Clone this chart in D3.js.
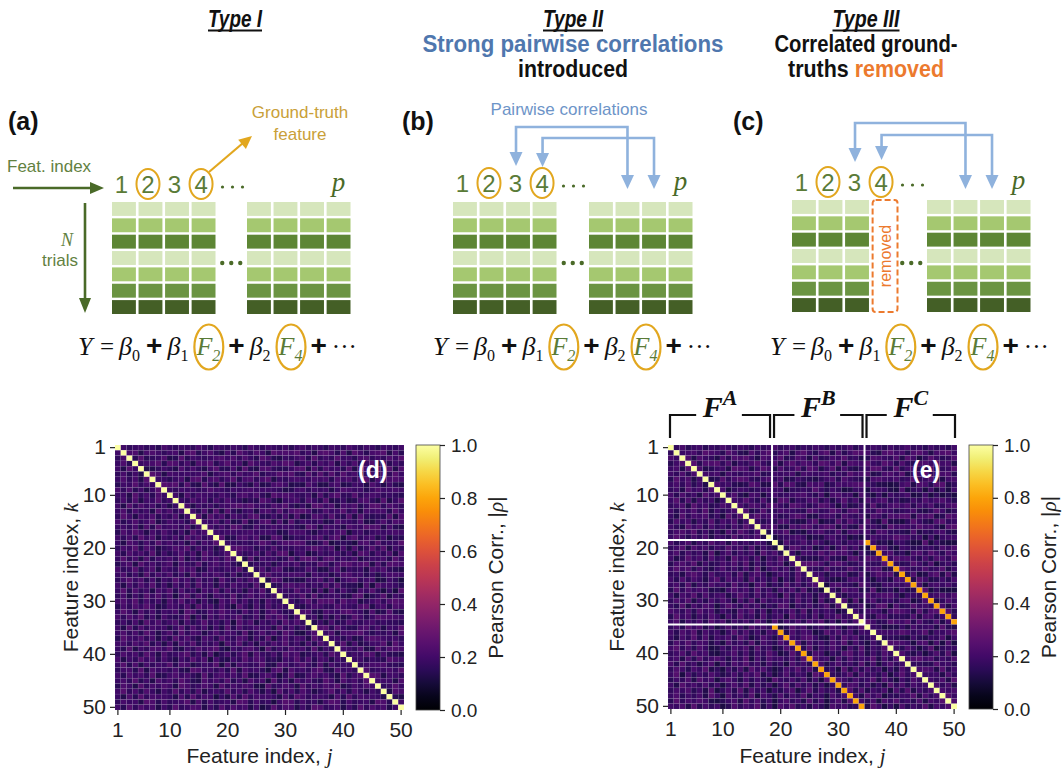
<!DOCTYPE html>
<html>
<head>
<meta charset="utf-8">
<script src="https://cdn.jsdelivr.net/npm/d3@7/dist/d3.min.js"></script>
<style>
  html, body { margin: 0; padding: 0; background: #fff; }
  svg { display: block; }
</style>
</head>
<body>
<svg id="fig" width="1063" height="776" viewBox="0 0 1063 776"></svg>
<script>
// ================= data =================
const typeNames = ["Type I", "Type II", "Type III"];
const typeNotes = [
  [],
  [[{ t: "Strong pairwise correlations", role: "corr" }], [{ t: "introduced" }]],
  [[{ t: "Correlated ground-" }], [{ t: "truths " }, { t: "removed", role: "removed" }]]
];
const panelTags = ["(a)", "(b)", "(c)"];
const featLabels = ["1", "2", "3", "4"];
const groundTruth = ["2", "4"];
const lastFeatLabel = "p";
const nTrialRows = 7;
const corrPairs = [[3, 2], [4, 3]];          // left-block column -> right-block column
const removedFeature = [null, null, "4"];    // feature dropped in each design type
const eqTokens = [
  { kind: "var", t: "Y" },
  { kind: "rel", t: "=" },
  { kind: "var", t: "β", sub: "0" },
  { kind: "plus", t: "+" },
  { kind: "var", t: "β", sub: "1" },
  { kind: "feat", t: "F", sub: "2" },
  { kind: "plus", t: "+" },
  { kind: "var", t: "β", sub: "2" },
  { kind: "feat", t: "F", sub: "4" },
  { kind: "plus", t: "+" },
  { kind: "dots", t: "···" }
];

const featureIdx = d3.range(1, 51);
const axisTicks = [1, 10, 20, 30, 40, 50];
const cbarTicks = [0, 0.2, 0.4, 0.6, 0.8, 1.0];
const groupsE = [
  { name: "A", from: 1, to: 18 },
  { name: "B", from: 19, to: 34 },
  { name: "C", from: 35, to: 50 }
];
const pairedOffset = 16;   // feature k (35..50) is a noisy copy of feature k-16
const pairedRho = 0.8;

// |rho| levels below the diagonal, one string per feature k = 2..50 (digit d -> 0.10 + 0.016 d)
const bgLevelsD = [
  "6", "47", "583", "6295", "47362", "584729", "3659475", "74836259", "562947385",
  "4738265946", "6294857362 5", "5837462958 47", "4962758364 826", "7358469247 5639",
  "5647283956 74826", "3859627485 362957", "6473958264 7395846", "5286374957 46283759",
  "4759386245 869374625", "6385749263 5847296358", "5947283657 4926385749 6",
  "3682957468 2754936857 42", "7459368275 4968237546 593", "5836294758 3629475863 7254",
  "4695837264 9573846295 37486", "6274859362 7483956274 856392", "5938462759 3846275938 4627593",
  "4726395847 1693852764 93585746", "6859374628 5947263185 947362854",
  "3748596237 6482957384 1952738465", "5962847365 7298347596 5384726953 4",
  "7485936274 3591627485 6934728596 27", "4637295846 8273594637 1958264739 584",
  "6293847562 5938472629 3845756294 7362", "5847396258 3947625847 6392584739 62158",
  "3965847263 9584276395 4872639158 476295", "6748593627 2859364718 5936274859 4627385",
  "5392648759 3264857931 6478519364 85739264", "4857396284 5793628147 3692854739 682457396",
  "7264958374 2649581732 6495873426 5948376264", "5938274659 3872465918 2764593287 4695382746 5",
  "4673928564 7329856473 9285641792 8564793285 64", "6385749236 8574293685 7492368514 9236857429 368",
  "5749362857 4963285749 3628571936 2857439628 5749", "3862947586 2974586294 7586219458 6294758692 47586",
  "6947385264 9473825649 4738526194 7385246947 385264", "5283947665 2839476152 8394766528 3974665283 9476652",
  "4756298374 5692837456 2983745169 8374526983 74562983", "6394857263 9458726394 8572613948 7263984572 639485726"
];
const bgLevelsE = [
  "4", "75", "368", "5729", "64837", "395826", "5748362", "46295738", "738462957",
  "5938274615", "4682957348 6", "6375849263 57", "5294768351 948", "3857264937 5826",
  "6429583746 37495", "4785936251 849637", "5963748265 3947582", "7358264957 28463751",
  "4692857364 957382641", "5837462915 8364729583", "6249573846 2957381649 5",
  "3785926347 5849263758 16", "5968374258 4637291584 729", "4527963845 7392685147 6395",
  "6384752693 8572946381 52946", "5739264857 3946178253 947368", "3948576231 6857394627 5839241",
  "6275938467 2596384751 93846275", "4859263748 5173928465 739461825",
  "5392748615 9638472539 8164735928", "7648395726 4285937164 5839274651 3",
  "3957264851 7394628357 1946382759 46", "5826473958 2647395182 6473859261 738",
  "4739582614 8362957481 3957246385 1649", "6385927461 5948362759 2847613958 47265",
  "5274938265 7396148527 3648952173 958346", "3859476251 8463927538 5192746385 9274163",
  "6947385126 3758294613 8573926485 17392648", "4683957214 5837264951 3948276153 894726385",
  "5728394685 2649173856 4739285617 3846592738", "7394625817 3859462735 1846397258 4639271584 6",
  "4863759241 6372958413 7594826351 9283746152 84", "5917364852 4738592614 8365197243 5928463715 947",
  "3648295716 8527364195 4738261958 6374592841 6385", "6295748361 5849273615 9384726159 4873625194 83756",
  "4758362914 7392846153 6815937462 5938264718 392647", "5836472951 8463917528 3749265184 7362958143 6592847",
  "3947586213 5729483615 8462937158 2946371859 46382759", "6582937461 3847592618 5936274185 7348296151 836492758"
];

// ================= drawing =================
const svg = d3.select("#fig");
const SANS = "'Liberation Sans', Arial, Helvetica, sans-serif";
const NARROW = "'Liberation Sans Narrow', 'Arial Narrow', 'Liberation Sans', Arial, sans-serif";
const SERIF = "'Liberation Serif', 'Times New Roman', serif";
const COL = {
  ink: "#111", num: "#5a7b37", dark: "#4a6a28", olive: "#62813f",
  gold: "#e2a71f", goldText: "#c9a038", blue: "#8fb2dd", blueText: "#6d94c8",
  corr: "#4f77ae", removed: "#ec7a2e"
};
const trialShade = ["#d6e6bc", "#a5c870", "#5d8634", "#d6e6bc", "#a5c870", "#6b9442", "#445f26"];

function head(g, x, y, ang, len, wid, color) {
  g.append("path")
    .attr("d", `M0,0 L${-len},${-wid / 2} L${-len},${wid / 2} Z`)
    .attr("transform", `translate(${x},${y}) rotate(${ang})`)
    .attr("fill", color);
}

// ---------- column headings ----------
const headCenters = [235, 573, 866];
const headWidths = {
  "Type I": 54, "Type II": 60, "Type III": 67,
  "Strong pairwise correlations": 301, "introduced": 110,
  "Correlated ground-": 183, "truths removed": 156
};
typeNames.forEach((name, i) => {
  const cx = headCenters[i];
  const w = headWidths[name];
  svg.append("text")
    .attr("x", cx).attr("y", 27).attr("text-anchor", "middle")
    .attr("font-family", NARROW).attr("font-weight", "bold").attr("font-style", "italic")
    .attr("font-size", 23).attr("fill", COL.ink)
    .attr("textLength", w).attr("lengthAdjust", "spacingAndGlyphs")
    .text(name);
  svg.append("line")
    .attr("x1", cx - w / 2).attr("x2", cx + w / 2).attr("y1", 30.5).attr("y2", 30.5)
    .attr("stroke", COL.ink).attr("stroke-width", 2);
  typeNotes[i].forEach((line, li) => {
    const t = svg.append("text")
      .attr("x", cx).attr("y", 52 + 25 * li).attr("text-anchor", "middle")
      .attr("font-family", NARROW).attr("font-weight", "bold").attr("font-size", 23);
    line.forEach(seg => t.append("tspan").text(seg.t).attr("fill", seg.role ? COL[seg.role] : COL.ink));
    const full = line.map(s => s.t).join("");
    t.attr("textLength", headWidths[full]).attr("lengthAdjust", "spacingAndGlyphs");
  });
});

// ---------- schematic panels (a)-(c) ----------
const panelCfg = [
  { tagX: 8,   leftX: 112, rightX: 247, gridTop: 202, numY: 193, eqX: 78 },
  { tagX: 402, leftX: 453, rightX: 589, gridTop: 202, numY: 192, eqX: 433, linkTops: [127, 138], leftTip: 166 },
  { tagX: 733, leftX: 792, rightX: 927, gridTop: 200, numY: 191, eqX: 770, linkTops: [123, 135], leftTip: 162 }
];

function drawEquation(g, x0, base) {
  let cx = x0;
  eqTokens.forEach((tok, i) => {
    if (i > 0) cx += 5;
    const isFeat = tok.kind === "feat";
    if (isFeat) cx += 2;
    const t = g.append("text").attr("x", cx).attr("y", base);
    if (tok.kind === "plus") {
      t.attr("font-family", SANS).attr("font-weight", "bold").attr("font-size", 28).attr("fill", COL.ink).text(tok.t);
    } else if (tok.kind === "dots") {
      t.attr("font-family", SERIF).attr("font-size", 25).attr("fill", COL.ink).text(tok.t);
    } else if (tok.kind === "rel") {
      t.attr("font-family", SERIF).attr("font-size", 25).attr("fill", COL.ink).text(tok.t);
    } else {
      const fill = isFeat ? COL.num : COL.ink;
      t.attr("font-family", SERIF).attr("font-style", "italic").attr("font-size", 26).attr("fill", fill);
      t.append("tspan").text(tok.t);
      if (tok.sub) t.append("tspan").attr("font-size", 16).attr("font-style", isFeat ? "italic" : "normal").attr("dy", 6).text(tok.sub);
    }
    const w = t.node().getBBox().width;
    if (isFeat) {
      g.append("ellipse")
        .attr("cx", cx + w / 2).attr("cy", base - 8).attr("rx", w / 2 + 2).attr("ry", 22.5)
        .attr("fill", "none").attr("stroke", COL.gold).attr("stroke-width", 2.2);
      cx += 2;
    }
    cx += w;
  });
}

panelCfg.forEach((p, pi) => {
  const g = svg.append("g");
  g.append("text").attr("x", p.tagX).attr("y", 130)
    .attr("font-family", SANS).attr("font-weight", "bold").attr("font-size", 25).attr("fill", COL.ink)
    .text(panelTags[pi]);

  const colL = d3.scaleBand().domain(featLabels).range([p.leftX, p.leftX + 103.5]).paddingInner(0.1);
  const colR = d3.scaleBand().domain(d3.range(4)).range([p.rightX, p.rightX + 103.5]).paddingInner(0.1);
  const rowY = d3.scaleBand().domain(d3.range(nTrialRows)).range([p.gridTop, p.gridTop + 112]).paddingInner(0.15);

  // trial x feature blocks
  featLabels.forEach(f => {
    if (removedFeature[pi] === f) return;
    d3.range(nTrialRows).forEach(r => {
      g.append("rect").attr("x", colL(f)).attr("y", rowY(r))
        .attr("width", colL.bandwidth()).attr("height", rowY.bandwidth()).attr("fill", trialShade[r]);
    });
  });
  d3.range(4).forEach(c => {
    d3.range(nTrialRows).forEach(r => {
      g.append("rect").attr("x", colR(c)).attr("y", rowY(r))
        .attr("width", colR.bandwidth()).attr("height", rowY.bandwidth()).attr("fill", trialShade[r]);
    });
  });

  // removed column
  if (removedFeature[pi]) {
    const f = removedFeature[pi];
    const rx0 = colL(f) + 1, rw = colL.bandwidth() + 1;
    g.append("rect").attr("x", rx0).attr("y", p.gridTop).attr("width", rw).attr("height", 112)
      .attr("rx", 3).attr("fill", "none").attr("stroke", COL.removed)
      .attr("stroke-width", 2).attr("stroke-dasharray", "6,3");
    g.append("text")
      .attr("transform", `translate(${rx0 + rw / 2 + 5.5},${p.gridTop + 56}) rotate(-90)`)
      .attr("text-anchor", "middle").attr("font-family", SANS).attr("font-size", 16)
      .attr("fill", COL.removed).text("removed");
  }

  // ellipsis between blocks
  const gapMid = (p.leftX + 103.5 + p.rightX) / 2;
  [-9, 0, 9].forEach(dx => g.append("circle").attr("cx", gapMid + dx).attr("cy", 263).attr("r", 2.2).attr("fill", COL.dark));

  // feature index labels
  featLabels.forEach(f => {
    g.append("text").attr("x", colL(f) + colL.bandwidth() / 2 - 2.5).attr("y", p.numY)
      .attr("text-anchor", "middle").attr("font-family", SANS).attr("font-size", 24)
      .attr("fill", COL.num).text(f);
    if (groundTruth.includes(f)) {
      g.append("ellipse").attr("cx", colL(f) + colL.bandwidth() / 2 - 2.5).attr("cy", p.numY - 9)
        .attr("rx", 11.5).attr("ry", 15).attr("fill", "none").attr("stroke", COL.gold).attr("stroke-width", 2);
    }
  });
  const dotX0 = colL(featLabels[3]) + colL.bandwidth() + 7;
  [0, 10, 20].forEach(dx => g.append("circle").attr("cx", dotX0 + dx).attr("cy", p.numY - 6).attr("r", 1.6).attr("fill", COL.dark));
  g.append("text").attr("x", colR(3) + colR.bandwidth() / 2).attr("y", p.numY - 2)
    .attr("text-anchor", "middle").attr("font-family", SERIF).attr("font-style", "italic")
    .attr("font-size", 27).attr("fill", COL.dark).text(lastFeatLabel);

  // pairwise-correlation links
  if (p.linkTops) {
    corrPairs.forEach((pair, k) => {
      const xl = colL(featLabels[pair[0] - 1]) + colL.bandwidth() / 2 - 2;
      const xr = colR(pair[1] - 1) + colR.bandwidth() / 2;
      const top = p.linkTops[k];
      const lt = p.leftTip + (k === 1 && pi === 1 ? 1 : 0) - (k === 1 && pi === 2 ? 2 : 0);
      g.append("path")
        .attr("d", `M${xl},${lt - 12} V${top} H${xr} V${189 - 12}`)
        .attr("fill", "none").attr("stroke", COL.blue).attr("stroke-width", 2.6);
      head(g, xl, lt, 90, 14, 13, COL.blue);
      head(g, xr, 189, 90, 14, 13, COL.blue);
    });
  }
  if (pi === 1) {
    g.append("text").attr("x", 569).attr("y", 115).attr("text-anchor", "middle")
      .attr("font-family", SANS).attr("font-size", 17).attr("fill", COL.blueText)
      .text("Pairwise correlations");
  }

  // legend items of panel (a)
  if (pi === 0) {
    g.append("text").attr("x", 7).attr("y", 172).attr("font-family", SANS).attr("font-size", 17)
      .attr("fill", COL.olive).text("Feat. index");
    g.append("line").attr("x1", 13).attr("x2", 92).attr("y1", 188).attr("y2", 188)
      .attr("stroke", COL.dark).attr("stroke-width", 2.6);
    head(g, 104, 188, 0, 14, 12, COL.dark);

    g.append("line").attr("x1", 85).attr("x2", 85).attr("y1", 203).attr("y2", 300)
      .attr("stroke", COL.dark).attr("stroke-width", 2.6);
    head(g, 85, 313, 90, 15, 12, COL.dark);
    g.append("text").attr("x", 67).attr("y", 246).attr("text-anchor", "middle")
      .attr("font-family", SERIF).attr("font-style", "italic").attr("font-size", 18)
      .attr("fill", COL.olive).text("N");
    g.append("text").attr("x", 60).attr("y", 266).attr("text-anchor", "middle")
      .attr("font-family", SANS).attr("font-size", 17).attr("fill", COL.olive).text("trials");

    g.append("line").attr("x1", 209).attr("y1", 172).attr("x2", 243).attr("y2", 143)
      .attr("stroke", COL.gold).attr("stroke-width", 2.2);
    head(g, 252, 136, -40, 13, 12, COL.gold);
    g.append("text").attr("x", 300).attr("y", 118).attr("text-anchor", "middle")
      .attr("font-family", SANS).attr("font-size", 17).attr("fill", COL.goldText).text("Ground-truth");
    g.append("text").attr("x", 300).attr("y", 140).attr("text-anchor", "middle")
      .attr("font-family", SANS).attr("font-size", 17).attr("fill", COL.goldText).text("feature");
  }

  drawEquation(g, p.eqX, 355);
});

// ---------- correlation heatmaps (d), (e) ----------
function levelMatrix(rows) {
  return rows.map(s => s.replace(/\s+/g, ""));
}
const levD = levelMatrix(bgLevelsD), levE = levelMatrix(bgLevelsE);
function bgRho(lev, k, j) {
  const hi = Math.max(k, j), lo = Math.min(k, j);
  const row = lev[hi - 2] || "";
  const ch = row.charAt(lo - 1);
  const d = ch === "" ? 5 : +ch;
  return 0.10 + 0.016 * d;
}
function rhoD(k, j) { return k === j ? 1 : bgRho(levD, k, j); }
function rhoE(k, j) {
  if (k === j) return 1;
  const hi = Math.max(k, j), lo = Math.min(k, j);
  if (hi >= groupsE[2].from && hi - lo === pairedOffset) return pairedRho;
  return bgRho(levE, k, j);
}

const inferno = d3.scaleSequential(d3.interpolateInferno).domain([0, 1]);
const defs = svg.append("defs");

function heatmap(cfg) {
  const g = svg.append("g");
  const x = d3.scaleBand().domain(featureIdx).range([cfg.x, cfg.x + cfg.w]);
  const y = d3.scaleBand().domain(featureIdx).range([cfg.y, cfg.y + cfg.h]);
  const cells = [];
  featureIdx.forEach(k => featureIdx.forEach(j => cells.push({ k, j, v: cfg.rho(k, j) })));
  g.append("g").selectAll("rect").data(cells).join("rect")
    .attr("x", d => x(d.j)).attr("y", d => y(d.k))
    .attr("width", x.bandwidth()).attr("height", y.bandwidth())
    .attr("fill", d => inferno(d.v))
    .attr("stroke", "rgba(255,255,255,0.09)").attr("stroke-width", 0.6);

  const ax = g.append("g").attr("transform", `translate(0,${cfg.y + cfg.h})`)
    .call(d3.axisBottom(x).tickValues(axisTicks).tickSize(5).tickPadding(7));
  const ay = g.append("g").attr("transform", `translate(${cfg.x},0)`)
    .call(d3.axisLeft(y).tickValues(axisTicks).tickSize(5).tickPadding(4));
  [ax, ay].forEach(a => {
    a.select(".domain").remove();
    a.selectAll("text").attr("font-family", SANS).attr("font-size", 21).attr("fill", "#222");
    a.selectAll("line").attr("stroke", "#222").attr("stroke-width", 1.2);
  });

  const xl = g.append("text").attr("x", cfg.x + cfg.w / 2).attr("y", 763).attr("text-anchor", "middle")
    .attr("font-family", SANS).attr("font-size", 21).attr("fill", "#222");
  xl.append("tspan").text("Feature index, ");
  xl.append("tspan").attr("font-family", SERIF).attr("font-style", "italic").text("j");

  const yl = g.append("text")
    .attr("transform", `translate(${cfg.yLabelX},${cfg.y + cfg.h / 2}) rotate(-90)`)
    .attr("text-anchor", "middle").attr("font-family", SANS).attr("font-size", 21).attr("fill", "#222");
  yl.append("tspan").text("Feature index, ");
  yl.append("tspan").attr("font-family", SERIF).attr("font-style", "italic").text("k");

  g.append("text").attr("x", cfg.tagX).attr("y", 478)
    .attr("font-family", SANS).attr("font-weight", "bold").attr("font-size", 23).attr("fill", "#fff")
    .text(cfg.tag);

  // colour bar
  const gid = "cb" + cfg.tag.replace(/\W/g, "");
  const grad = defs.append("linearGradient").attr("id", gid)
    .attr("x1", 0).attr("y1", 1).attr("x2", 0).attr("y2", 0);
  d3.range(0, 1.0001, 0.05).forEach(t => grad.append("stop").attr("offset", t).attr("stop-color", inferno(t)));
  g.append("rect").attr("x", cfg.cbX).attr("y", cfg.y).attr("width", 24).attr("height", cfg.h)
    .attr("fill", `url(#${gid})`).attr("stroke", "#444").attr("stroke-width", 0.8);
  const cy = d3.scaleLinear().domain([0, 1]).range([cfg.y + cfg.h, cfg.y]);
  const ac = g.append("g").attr("transform", `translate(${cfg.cbX + 24},0)`)
    .call(d3.axisRight(cy).tickValues(cbarTicks).tickFormat(d3.format(".1f")).tickSize(5).tickPadding(6));
  ac.select(".domain").remove();
  ac.selectAll("text").attr("font-family", SANS).attr("font-size", 19).attr("fill", "#222");
  ac.selectAll("line").attr("stroke", "#222").attr("stroke-width", 1.2);
  const cl = g.append("text")
    .attr("transform", `translate(${cfg.cbX + 24 + 63},${cfg.y + cfg.h / 2}) rotate(-90)`)
    .attr("text-anchor", "middle").attr("font-family", SANS).attr("font-size", 21).attr("fill", "#222");
  cl.append("tspan").text("Pearson Corr., |");
  cl.append("tspan").attr("font-family", SERIF).attr("font-style", "italic").text("ρ");
  cl.append("tspan").text("|");

  return { g, x, y };
}

heatmap({ x: 115, y: 445, w: 289, h: 265, rho: rhoD, cbX: 416, yLabelX: 78, tag: "(d)", tagX: 358 });
const he = heatmap({ x: 668, y: 445, w: 289, h: 264, rho: rhoE, cbX: 969, yLabelX: 624, tag: "(e)", tagX: 912 });

// block boundaries of F^A and F^A ∪ F^B
{
  const { g, x, y } = he;
  const x0 = 668, y0 = 445;
  [groupsE[0].to, groupsE[1].to].forEach(b => {
    const xe = x(b) + x.bandwidth(), ye = y(b) + y.bandwidth();
    g.append("path").attr("d", `M${x0},${ye} H${xe} V${y0}`)
      .attr("fill", "none").attr("stroke", "#fff").attr("stroke-width", 2);
  });
  // group brackets
  groupsE.forEach(gr => {
    const x1 = x(gr.from) + 2, x2 = x(gr.to) + x.bandwidth() - 2;
    const cx = (x1 + x2) / 2;
    const t = g.append("text").attr("x", cx).attr("y", 417).attr("text-anchor", "middle")
      .attr("font-family", SERIF).attr("font-weight", "bold").attr("font-style", "italic")
      .attr("font-size", 30).attr("fill", COL.ink);
    t.append("tspan").text("F");
    t.append("tspan").attr("font-size", 22).attr("dy", -12).text(gr.name);
    const w = t.node().getBBox().width;
    g.append("path")
      .attr("d", `M${x1},438 V415 H${cx - w / 2 - 6} M${cx + w / 2 + 4},415 H${x2} V438`)
      .attr("fill", "none").attr("stroke", COL.ink).attr("stroke-width", 2.2);
  });
}
</script>
</body>
</html>
